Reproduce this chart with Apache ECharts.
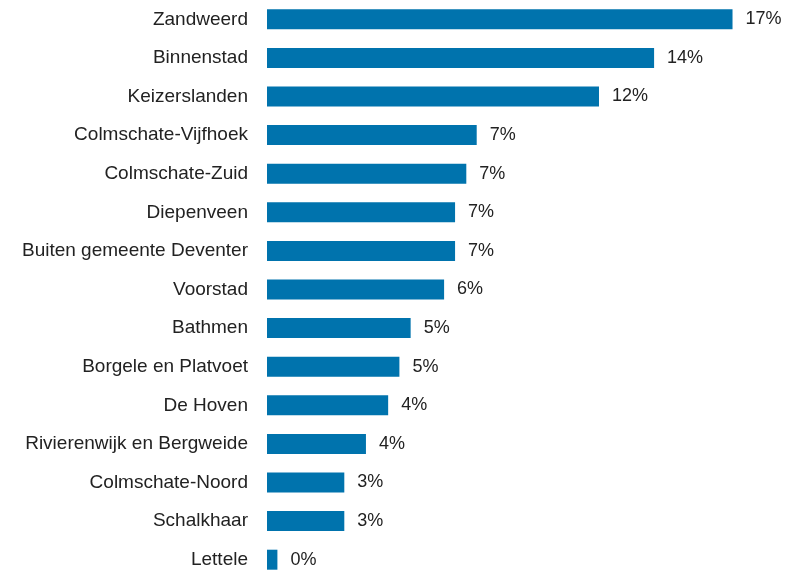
<!DOCTYPE html>
<html>
	<head>
		<meta charset="utf-8">
		<title>Wijken</title>
		<script src="https://cdn.jsdelivr.net/npm/echarts@6/dist/echarts.min.js"></script>
		<style>
			html, body {
				margin: 0;
				padding: 0;
				background: #fff;
			}
		</style>
	</head>
	<body>
		<div id="chart" style="width:789px;height:579px"></div>
		<script type="text/javascript">
			// wijken, van boven naar beneden
			var wijken = [
				'Zandweerd', 'Binnenstad', 'Keizerslanden', 'Colmschate-Vijfhoek',
				'Colmschate-Zuid', 'Diepenveen', 'Buiten gemeente Deventer', 'Voorstad',
				'Bathmen', 'Borgele en Platvoet', 'De Hoven', 'Rivierenwijk en Bergweide',
				'Colmschate-Noord', 'Schalkhaar', 'Lettele'
			];
			var aandeel = [
				16.56, 13.77, 11.81, 7.46,
				7.09, 6.69, 6.69, 6.30,
				5.11, 4.71, 4.31, 3.52,
				2.75, 2.75, 0.37
			];

			var myChart = echarts.init(document.getElementById('chart'));
			myChart.setOption({
				animation: false,
				textStyle: {fontFamily: 'Liberation Sans, Arial, sans-serif'},
				grid: {
					left: 267,
					top: 0,
					width: 506,
					height: 589,
					containLabel: false
				},
				xAxis: {
					type: 'value',
					min: 0,
					max: 18,
					show: false
				},
				yAxis: {
					type: 'category',
					data: wijken,
					inverse: true,
					axisLine: {show: false},
					axisTick: {show: false},
					splitLine: {show: false},
					axisLabel: {
						margin: 19,
						fontSize: 19,
						color: '#222'
					}
				},
				series: [
					{
						type: 'bar',
						data: aandeel,
						barWidth: 20,
						itemStyle: {color: '#0073ad'},
						label: {
							show: true,
							position: 'right',
							distance: 13,
							fontSize: 18,
							color: '#222',
							formatter: function (p) {
								return Math.round(p.value) + '%';
							}
						}
					}
				]
			});
		</script>
	</body>
</html>
